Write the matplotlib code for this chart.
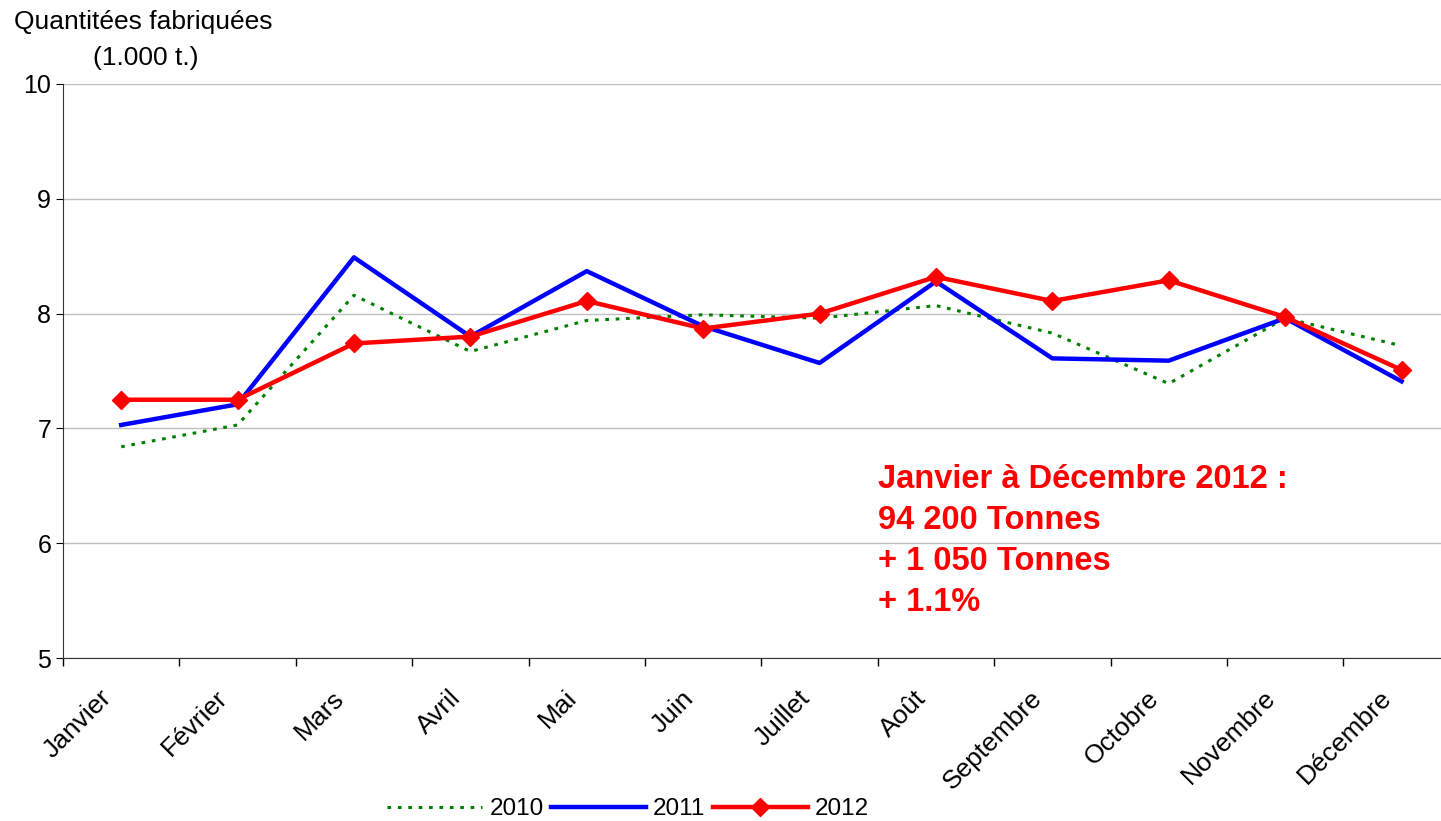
import matplotlib
matplotlib.use("Agg")
import matplotlib.pyplot as plt
from matplotlib.transforms import ScaledTranslation

plt.rcParams['font.family'] = ['Liberation Sans', 'DejaVu Sans']

mois = ['Janvier', 'Février', 'Mars', 'Avril', 'Mai', 'Juin', 'Juillet',
        'Août', 'Septembre', 'Octobre', 'Novembre', 'Décembre']
v2010 = [6.84, 7.03, 8.16, 7.67, 7.94, 7.99, 7.96, 8.07, 7.83, 7.39, 7.96, 7.72]
v2011 = [7.03, 7.21, 8.49, 7.80, 8.37, 7.89, 7.57, 8.28, 7.61, 7.59, 7.96, 7.41]
v2012 = [7.25, 7.25, 7.74, 7.80, 8.11, 7.87, 8.00, 8.32, 8.11, 8.29, 7.97, 7.51]

fig = plt.figure(figsize=(14.41, 8.21), dpi=100)
ax = fig.add_axes([0.0437, 0.1985, 0.9693, 0.6992])

x = range(len(mois))
ax.plot(x, v2010, color='green', linestyle=(0, (1.2, 2.2)), linewidth=2.2, label='2010')
ax.plot(x, v2011, color='blue', linewidth=3.2, label='2011')
ax.plot(x, v2012, color='red', linewidth=3.2, marker='D', markersize=9, label='2012')

ax.set_ylim(5, 10)
ax.set_xlim(-0.5, 11.5)
ax.set_yticks([5, 6, 7, 8, 9, 10])
ax.yaxis.grid(True, color='#c0c0c0', linewidth=1)
ax.set_axisbelow(True)

ax.set_xticks(list(x))
ax.set_xticklabels(mois, rotation=45, ha='right', rotation_mode='anchor')
ax.set_xticks([i - 0.5 for i in range(13)], minor=True)
ax.tick_params(axis='x', which='major', length=0, labelsize=19, pad=20)
ax.tick_params(axis='x', which='minor', length=6, width=1, direction='out')
ax.tick_params(axis='y', length=5, labelsize=18, direction='out')
decal = ScaledTranslation(-22 / 100, 0, fig.dpi_scale_trans)
for lab in ax.get_xticklabels():
    lab.set_transform(lab.get_transform() + decal)

for s in ['top', 'right']:
    ax.spines[s].set_visible(False)
ax.spines['left'].set_color('#333333')
ax.spines['bottom'].set_color('#333333')

ax.text(6.5, 6.69, 'Janvier à Décembre 2012 :\n94 200 Tonnes\n+ 1 050 Tonnes\n+ 1.1%',
        color='red', fontsize=23.5, fontweight='bold', va='top', ha='left', linespacing=1.42)

fig.text(143 / 1441, 1 - 22 / 821, 'Quantitées fabriquées', ha='center', va='center', fontsize=19)
fig.text(146 / 1441, 1 - 58 / 821, '(1.000 t.)', ha='center', va='center', fontsize=19)

fig.legend(loc='lower center', bbox_to_anchor=(0.436, -0.026), ncol=3, frameon=False,
           fontsize=17.5, handlelength=3.9, handletextpad=0.3, columnspacing=0.3)

fig.savefig('out.png', dpi=100)
